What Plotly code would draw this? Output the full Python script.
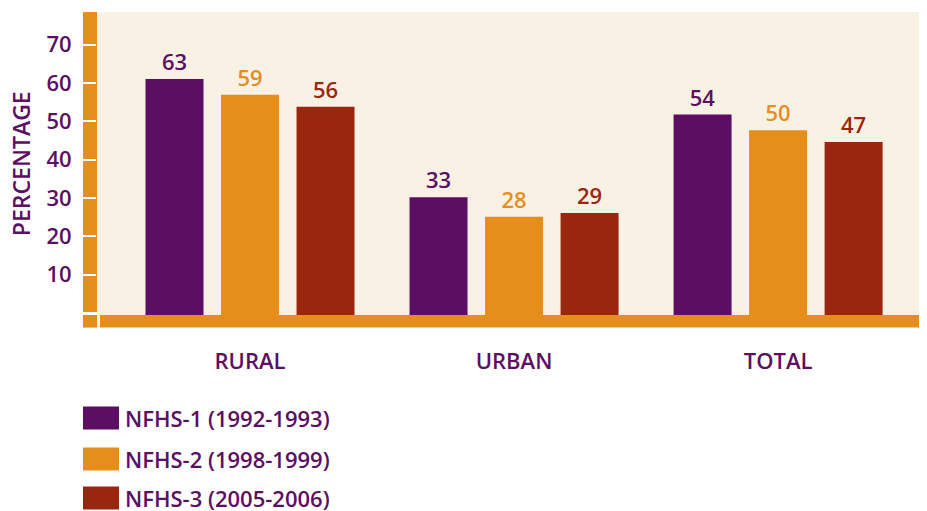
import plotly.graph_objects as go

categories = ["RURAL", "URBAN", "TOTAL"]
series_names = ["NFHS-1 (1992-1993)", "NFHS-2 (1998-1999)", "NFHS-3 (2005-2006)"]
nfhs1 = [63, 33, 54]
nfhs2 = [59, 28, 50]
nfhs3 = [56, 29, 47]
y_ticks = [10, 20, 30, 40, 50, 60, 70]

series_values = [nfhs1, nfhs2, nfhs3]
colors = ["#5B0E62", "#E68E1B", "#9B2610"]
text_color = "#5B0E62"
axis_orange = "#E68E1B"
bg = "#FAF1E5"
FONT = "Open Sans"
FS = 22
FW = 600

OFF = 8  # page body margin
W, H = 927 - OFF, 511 - OFF
PLOT_BOTTOM = 326.7  # page pixel of the bar zero line
L, R, T = 97 - OFF, 0, 12 - OFF
B = H - (PLOT_BOTTOM - OFF)
PW = W - L - R
PH = H - T - B


def px(x):
    return (x - OFF - L) / PW


def py(y):
    return (H - B - (y - OFF)) / PH


fnt = dict(color=text_color, size=FS, family=FONT, weight=FW)

fig = go.Figure()
for name, vals, col in zip(series_names, series_values, colors):
    fig.add_trace(go.Bar(
        x=categories, y=vals, name=name,
        marker=dict(color=col, line=dict(width=0)),
        text=[str(v) for v in vals], textposition="outside",
        textfont=dict(color=col, size=FS, family=FONT, weight=FW),
        cliponaxis=False, showlegend=False, hoverinfo="skip",
    ))

# empty trace so the tick-label axis is drawn
fig.add_trace(go.Scatter(x=[], y=[], yaxis="y2", showlegend=False, hoverinfo="skip"))

shapes = [
    dict(type="rect", xref="paper", yref="paper", x0=px(83), x1=px(97),
         y0=py(311.7), y1=1, fillcolor=axis_orange, line=dict(width=0), layer="below"),
    dict(type="rect", xref="paper", yref="paper", x0=px(83), x1=px(97),
         y0=py(327.3), y1=py(314.7), fillcolor=axis_orange, line=dict(width=0), layer="above"),
    dict(type="rect", xref="paper", yref="paper", x0=px(100), x1=1,
         y0=py(327.3), y1=py(314.7), fillcolor=axis_orange, line=dict(width=0), layer="above"),
]

annotations = [
    dict(text="PERCENTAGE", xref="paper", yref="paper", x=px(21), y=py(164),
         textangle=-90, showarrow=False, xanchor="center", yanchor="middle", borderpad=0,
         font=dict(color=text_color, size=23, family=FONT, weight=FW)),
]

legend_rows = [417.5, 458.5, 497.5]
for name, col, yc in zip(series_names, colors, legend_rows):
    shapes.append(dict(type="rect", xref="paper", yref="paper",
                       x0=px(83), x1=px(119), y0=py(yc + 11.5), y1=py(yc - 11.5),
                       fillcolor=col, line=dict(width=0)))
    annotations.append(dict(text=name, xref="paper", yref="paper", x=px(124), y=py(yc),
                            xanchor="left", yanchor="middle", showarrow=False, borderpad=0,
                            font=fnt))

fig.update_layout(
    width=W, height=H,
    margin=dict(l=L, r=R, t=T, b=B, pad=0),
    paper_bgcolor="white", plot_bgcolor=bg,
    barmode="group", bargap=0.142, bargroupgap=0.232,
    font=dict(family=FONT, color=text_color, size=FS),
    xaxis=dict(range=[-0.5795, 2.564], showgrid=False, showline=False, zeroline=False,
               ticks="outside", ticklen=0, ticklabelstandoff=15, tickfont=fnt),
    yaxis=dict(range=[0, 80.06], visible=False, showgrid=False, zeroline=False),
    yaxis2=dict(overlaying="y", side="left", anchor="x", range=[-3.68, 78.5],
                tickvals=y_ticks, ticktext=[str(v) for v in y_ticks],
                ticks="outside", ticklen=14, tickwidth=2, tickcolor="white",
                ticklabelstandoff=6,
                showgrid=False, showline=False, zeroline=False, tickfont=fnt),
    shapes=shapes, annotations=annotations,
)

fig.write_html("out.html")
